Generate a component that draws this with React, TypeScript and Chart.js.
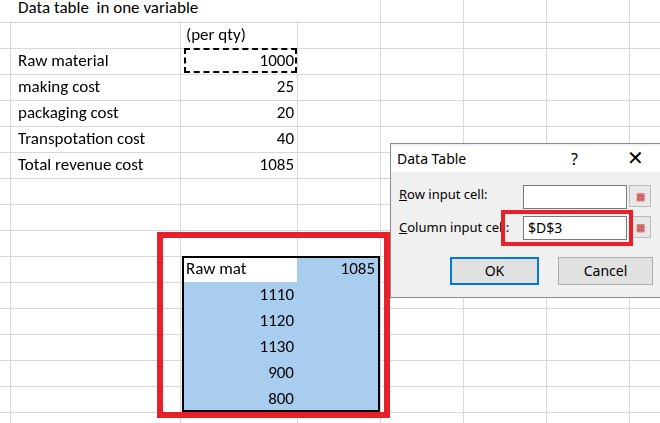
import { useRef, useEffect } from "react";
import { Chart, registerables } from "chart.js";

Chart.register(...registerables);

const costLabels = ["Raw material", "making cost", "packaging cost", "Transpotation cost", "Total revenue cost"];
const costValues = [1000, 25, 20, 40, 1085];
const rawMatInputs = [1110, 1120, 1130, 900, 800];
const colEdges = [10, 180, 297, 380, 463, 546, 629];
const rowEdges = Array.from({ length: 17 }, (_, i) => -4 + i * 26);

const font = "Calibri, Carlito, 'Liberation Sans', Arial, sans-serif";

export default function App() {
  const chartRef = useRef<HTMLCanvasElement | null>(null);
  const chartInstanceRef = useRef<Chart | null>(null);

  useEffect(() => {
    document.body.style.margin = "0";
    if (!chartRef.current) return;
    const ctx = chartRef.current.getContext("2d");
    if (!ctx) return;
    chartInstanceRef.current?.destroy();
    chartInstanceRef.current = new Chart(ctx, {
      type: "scatter",
      data: { datasets: [{ data: [] }] },
      options: {
        animation: false,
        responsive: false,
        layout: { padding: 0 },
        plugins: { legend: { display: false }, tooltip: { enabled: false } },
        scales: {
          x: {
            type: "linear", min: 0, max: 660, display: true,
            afterBuildTicks: (s) => { s.ticks = colEdges.map((v) => ({ value: v })); },
            ticks: { display: false },
            grid: { color: "#d9d9d9", drawTicks: false },
            border: { display: false },
          },
          y: {
            type: "linear", min: 0, max: 423, reverse: true, display: true,
            afterBuildTicks: (s) => { s.ticks = rowEdges.map((v) => ({ value: v })); },
            ticks: { display: false },
            grid: { color: "#d9d9d9", drawTicks: false },
            border: { display: false },
          },
        },
      },
    });
    return () => { chartInstanceRef.current?.destroy(); };
  }, []);

  const abs = (x: number, y: number, w: number, h: number, extra: any = {}) => ({
    position: "absolute" as const, left: x, top: y, width: w, height: h, boxSizing: "border-box" as const, ...extra,
  });
  const txt = { fontFamily: font, fontSize: 17, color: "#000", lineHeight: "26px", whiteSpace: "nowrap" as const };

  return (
    <div style={{ position: "fixed", left: 0, top: 0, width: 660, height: 423, background: "#fff", overflow: "hidden", ...txt }}>
      <canvas ref={chartRef} width={660} height={423} style={{ position: "absolute", left: 0, top: 0 }} />
      <div style={abs(0, -5, 300, 26, { background: "#fff", paddingLeft: 18 })}>Data table&nbsp; in one variable</div>
      <div style={abs(186, 22, 110, 26)}>(per qty)</div>
      {costLabels.map((l, i) => (
        <div key={l}>
          <div style={abs(18, 48 + i * 26, 160, 26)}>{l}</div>
          <div style={abs(182, 48 + i * 26, 112, 26, { textAlign: "right" })}>{costValues[i]}</div>
        </div>
      ))}
      <div style={abs(184, 48, 113, 25, { border: "2px dashed #000" })} />

      {/* what-if table */}
      <div style={abs(182, 256, 198, 156, { background: "#a9cdef", border: "2px solid #000" })} />
      <div style={abs(184, 258, 113, 24, { background: "#fff" })} />
      <div style={abs(186, 256, 110, 26)}>Raw mat</div>
      <div style={abs(297, 256, 78, 26, { textAlign: "right" })}>{costValues[4]}</div>
      {rawMatInputs.map((v, i) => (
        <div key={i} style={abs(186, 282 + i * 26, 108, 26, { textAlign: "right" })}>{v}</div>
      ))}
      <div style={abs(157, 232, 233, 186, { border: "6px solid #e8202a" })} />

      {/* dialog */}
      <div style={abs(390, 143, 280, 155, { background: "#f0f0f0", border: "1px solid #8a8a8a", fontFamily: "'Segoe UI', 'Noto Sans', sans-serif", fontSize: 13 })}>
        <div style={abs(0, 2, 278, 26, { lineHeight: "26px", fontSize: 14, background: "#fff", paddingLeft: 6 })}>Data Table</div>
        <div style={abs(180, 2, 20, 26, { lineHeight: "26px", fontSize: 16 })}>?</div>
        <div style={abs(236, 0, 20, 28, { lineHeight: "28px", fontSize: 20 })}>✕</div>
        <div style={abs(8, 40, 130, 20, { lineHeight: "20px" })}><u>R</u>ow input cell:</div>
        <div style={abs(132, 41, 104, 24, { background: "#fff", border: "1px solid #7a7a7a" })} />
        <div style={abs(8, 73, 112, 20, { lineHeight: "20px", overflow: "hidden" })}><u>C</u>olumn input cell:</div>
        <div style={abs(132, 72, 104, 24, { background: "#fff", border: "1px solid #7a7a7a", paddingLeft: 4, lineHeight: "22px", fontSize: 14 })}>$D$3</div>
        <div style={abs(238, 41, 22, 22, { background: "#e8e8e8", border: "1px solid #bbb", color: "#c33", fontSize: 10, lineHeight: "20px", textAlign: "center" })}>▦</div>
        <div style={abs(238, 72, 22, 22, { background: "#e8e8e8", border: "1px solid #bbb", color: "#c33", fontSize: 10, lineHeight: "20px", textAlign: "center" })}>▦</div>
        <div style={abs(110, 66, 132, 36, { border: "4px solid #e8202a" })} />
        <div style={abs(59, 113, 89, 28, { background: "#e1e1e1", border: "2px solid #0078d7", textAlign: "center", lineHeight: "24px", fontSize: 14 })}>OK</div>
        <div style={abs(167, 113, 95, 28, { background: "#e1e1e1", border: "1px solid #adadad", textAlign: "center", lineHeight: "26px", fontSize: 14 })}>Cancel</div>
      </div>
    </div>
  );
}
